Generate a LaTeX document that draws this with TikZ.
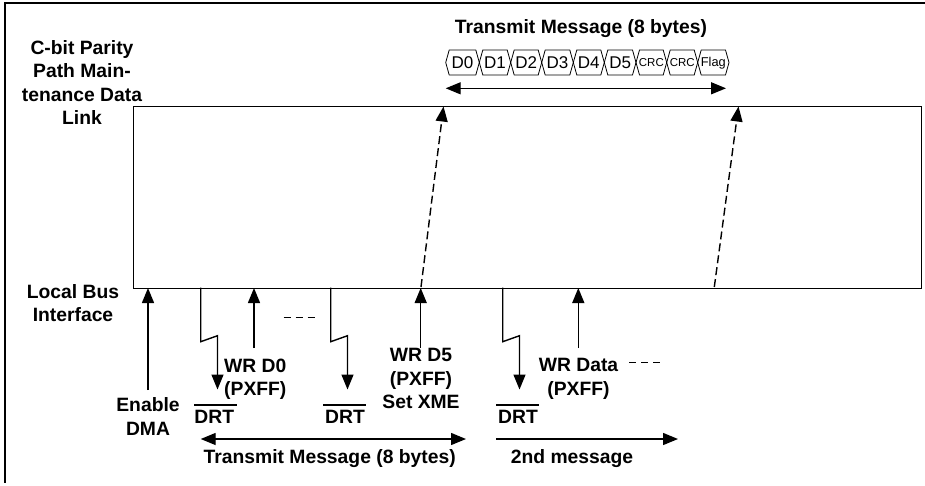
\documentclass[tikz,border=0pt]{standalone}
\usepackage{fontspec}
\setmainfont{Liberation Sans}
\usetikzlibrary{arrows.meta}
\tikzset{
  x=1pt,y=-1pt,
  lab/.style={font=\fontsize{19.3}{23.3}\selectfont\bfseries,align=center,inner sep=0pt,text=black},
  wire/.style={line width=1.4pt,black},
  arr/.style={wire,-{Triangle[length=15pt,width=12pt]}},
  dbl/.style={wire,{Triangle[length=15pt,width=12pt]}-{Triangle[length=15pt,width=12pt]}},
  dash3/.style={line width=1.2pt,dash pattern=on 7pt off 5pt},
  cell/.style={line width=.8pt,black},
  celltxt/.style={inner sep=0pt,text=black},
}
\begin{document}
\begin{tikzpicture}
\useasboundingbox (0,0) rectangle (925,485);
\draw[line width=2pt] (925,2.7) -- (4.7,2.7) -- (4.7,483);
\node[draw,line width=1.3pt,minimum width=788pt,minimum height=181.5pt,inner sep=0pt,anchor=north west] (box) at (133,106) {};
\node[lab] (ttop) at (581,29) {Transmit Message (8 bytes)};
\node[lab] (cbit) at (82,82.5) {C-bit Parity\\Path Main-\\tenance Data\\Link};
\node[lab] (lbi) at (73,302.8) {Local Bus\\Interface};
% message cells
\foreach \a/\b/\t/\s in {445.7/479.3/D0/17,479.3/510.7/D1/17,510.7/541.7/D2/17,541.7/573.3/D3/17,573.3/604.3/D4/17,604.3/636/D5/17,636/666.7/CRC/11.5,666.7/697.7/CRC/11.5,697.7/729/Flag/12.8}{
  \draw[cell] (\a,62.5) -- (\a+3.5,50) -- (\b-3.5,50) -- (\b,62.5) -- (\b-3.5,75) -- (\a+3.5,75) -- cycle;
  \node[celltxt,font=\fontsize{\s}{\s}\selectfont] at ({(\a+\b)/2},63) {\t};
}
\coordinate (ma) at (445.7,88.3); \coordinate (mb) at (726,88.3);
\draw[dbl] (ma) -- (mb);
% up arrows
\coordinate (e0) at (148,390); \coordinate (e1) at (148,288);
\draw[arr] (e0) -- (e1);
\coordinate (w0) at (254,348); \coordinate (w1) at (254,288);
\draw[arr] (w0) -- (w1);
\coordinate (x0) at (420.7,348); \coordinate (x1) at (420.7,288);
\draw[arr] (x0) -- (x1);
\coordinate (y0) at (578.3,348); \coordinate (y1) at (578.3,288);
\draw[arr] (y0) -- (y1);
% dashed
\coordinate (d0) at (421,287); \coordinate (d1) at (443.5,106.5);
\draw[arr,dash pattern=on 8pt off 4pt] (d0) -- (d1);
\coordinate (f0) at (714.3,287); \coordinate (f1) at (738.5,106.5);
\draw[arr,dash pattern=on 8pt off 4pt] (f0) -- (f1);
% lightning
\foreach \x in {200.7,330.7,502.7}{
  \draw[arr] (\x,287.5) -- (\x,341.7) -- (\x+16.8,335.7) -- (\x+16.8,389.5);
}
% labels
\node[lab,align=left,anchor=west] (lwr0) at (224,379) {WR D0\\(PXFF)};
\node[lab] (lwr5) at (421,378.5) {WR D5\\(PXFF)\\Set XME};
\node[lab] (lwrd) at (578.5,379) {WR Data\\(PXFF)};
\node[lab] (len) at (148,416.5) {Enable\\DMA};
\foreach \x/\c in {194/214.3,323.3/345,496/518}{
  \node[lab] at (\c,416.5) {DRT};
  \draw[line width=1.1pt] (\x,405) -- (\x+43,405);
}
\draw[dash3] (283.5,317.7) -- (315,317.7);
\draw[dash3] (629,362.7) -- (661,362.7);
\coordinate (ta) at (200.7,439); \coordinate (tb) at (466,439);
\draw[dbl] (ta) -- (tb);
\coordinate (sa) at (496,439); \coordinate (sb) at (678,439);
\draw[arr] (sa) -- (sb);
\node[lab] (lt) at (329.7,458.5) {Transmit Message (8 bytes)};
\node[lab] (ls) at (572,458.5) {2nd message};
\end{tikzpicture}
\end{document}
